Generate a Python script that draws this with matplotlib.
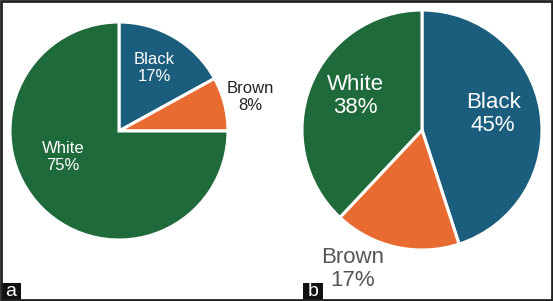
import matplotlib.pyplot as plt
from matplotlib.patches import Rectangle

plt.rcParams['font.family'] = ['Liberation Sans', 'DejaVu Sans']

# panel a
labels_a = ['Black', 'Brown', 'White']
values_a = [17, 8, 75]
# panel b
labels_b = ['Black', 'Brown', 'White']
values_b = [45, 17, 38]

colors = ['#1b5d7d', '#e86b31', '#1f6a3a']

fig = plt.figure(figsize=(5.53, 3.01), dpi=100)
ax = fig.add_axes([0, 0, 1, 1])

# pie a
ax.pie(values_a, colors=colors, startangle=90, counterclock=False,
       center=(119, 170), radius=109, frame=True,
       wedgeprops=dict(edgecolor='white', linewidth=2.2))
# pie b
ax.pie(values_b, colors=colors, startangle=90, counterclock=False,
       center=(422, 171), radius=120, frame=True,
       wedgeprops=dict(edgecolor='white', linewidth=2.2))
ax.set_xlim(0, 553)
ax.set_ylim(0, 301)
ax.set_aspect('equal')
ax.axis('off')

# labels panel a
pos_a = [(154, 233), (250, 204), (63, 144)]
col_a = ['white', '#222222', 'white']
for lab, v, p, c in zip(labels_a, values_a, pos_a, col_a):
    ax.text(p[0], p[1], f'{lab}\n{v}%', ha='center', va='center',
            fontsize=12, color=c, linespacing=1.15)

# labels panel b
pos_b = [(493, 187), (353, 32), (355, 205)]
col_b = ['white', '#555555', 'white']
for lab, v, p, c in zip(labels_b, values_b, pos_b, col_b):
    ax.text(p[0], p[1], f'{lab}\n{v}%', ha='center', va='center',
            fontsize=16, color=c, linespacing=1.1)

# panel tags
for x0, tag in [(1, 'a'), (303, 'b')]:
    ax.add_patch(Rectangle((x0, 1), 20, 17, facecolor='#111111', edgecolor='none'))
    ax.text(x0 + 10, 9.5, tag, ha='center', va='center', color='white',
            fontsize=14)

# outer border
ax.add_patch(Rectangle((1, 1), 551, 299, facecolor='none', edgecolor='#222222',
                       linewidth=2, clip_on=False))

fig.savefig('out.png', dpi=100)
